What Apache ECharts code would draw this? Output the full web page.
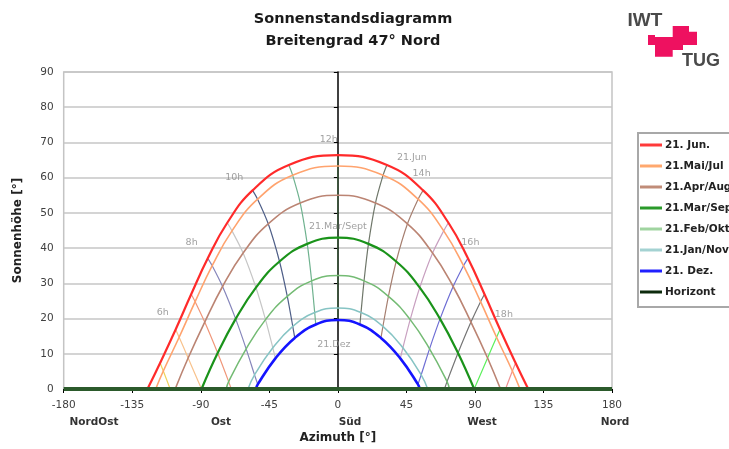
<!DOCTYPE html>
<html><head><meta charset="utf-8">
<script src="https://cdn.jsdelivr.net/npm/echarts@6/dist/echarts.min.js"></script>
<style>html,body{margin:0;padding:0;background:#fff}#c{width:729px;height:449px}</style>
</head><body><div id="c"></div>
<script>
// ---------- data ----------
const titleLines = ['Sonnenstandsdiagramm', 'Breitengrad 47° Nord'];
const xAxisName = 'Azimuth [°]';
const yAxisName = 'Sonnenhöhe [°]';
const directionNames = ['NordOst', 'Ost', 'Süd', 'West', 'Nord'];
const legendNames = ['21. Jun.', '21.Mai/Jul', '21.Apr/Aug', '21.Mar/Sep', '21.Feb/Okt', '21.Jan/Nov', '21. Dez.', 'Horizont'];

// sun paths: [azimuth, altitude]
const jun = [[-125.0,0],[-116.7,7.4],[-106.5,16.9],[-96.3,26.9],[-85.4,37.1],[-72.6,47.2],[-56.0,56.4],[-32.2,63.6],[0,66.4],[32.2,63.6],[56.0,56.4],[72.6,47.2],[85.4,37.1],[96.3,26.9],[106.5,16.9],[116.7,7.4],[125.0,0]];
const maiJul = [[-119.6,0],[-114.6,5.1],[-104.2,14.7],[-93.7,24.8],[-82.5,35.0],[-69.5,44.9],[-52.7,53.9],[-29.7,60.7],[0,63.3],[29.7,60.7],[52.7,53.9],[69.5,44.9],[82.5,35.0],[93.7,24.8],[104.2,14.7],[114.6,5.1],[119.6,0]];
const aprAug = [[-106.8,0],[-98.3,8.8],[-87.4,19.0],[-75.7,29.1],[-62.2,38.6],[-45.7,46.9],[-24.7,52.8],[0,55.0],[24.7,52.8],[45.7,46.9],[62.2,38.6],[75.7,29.1],[87.4,19.0],[98.3,8.8],[106.8,0]];
const marSep = [[-89.5,0],[-78.9,10.2],[-67.1,19.9],[-53.8,28.8],[-38.3,36.2],[-20.1,41.2],[0,43.0],[20.1,41.2],[38.3,36.2],[53.8,28.8],[67.1,19.9],[78.9,10.2],[89.5,0]];
const febOkt = [[-73.3,0],[-71.7,2.1],[-60.2,11.4],[-47.5,19.7],[-33.2,26.3],[-17.2,30.7],[0,32.2],[17.2,30.7],[33.2,26.3],[47.5,19.7],[60.2,11.4],[71.7,2.1],[73.3,0]];
const janNov = [[-59.0,0],[-54.7,4.0],[-42.7,11.7],[-29.6,17.8],[-15.2,21.7],[0,23.0],[15.2,21.7],[29.6,17.8],[42.7,11.7],[54.7,4.0],[59.0,0]];
const dez = [[-53.8,0],[-52.6,1.3],[-41.0,8.7],[-28.3,14.5],[-14.5,18.3],[0,19.6],[14.5,18.3],[28.3,14.5],[41.0,8.7],[52.6,1.3],[53.8,0]];
const horizont = [[-180,0],[180,0]];

// hour lines (same solar hour across the dates)
const hour05 = [[-116.7,7.4],[-114.6,5.1],[-110.1,0]];
const hour06 = [[-106.5,16.9],[-104.2,14.7],[-98.3,8.8],[-89.5,0]];
const hour07 = [[-96.3,26.9],[-93.7,24.8],[-87.4,19.0],[-78.9,10.2],[-71.7,2.1],[-70.0,0]];
const hour08 = [[-85.4,37.1],[-82.5,35.0],[-75.7,29.1],[-67.1,19.9],[-60.2,11.4],[-54.7,4.0],[-52.6,1.3]];
const hour09 = [[-72.6,47.2],[-69.5,44.9],[-62.2,38.6],[-53.8,28.8],[-47.5,19.7],[-42.7,11.7],[-41.0,8.7]];
const hour10 = [[-56.0,56.4],[-52.7,53.9],[-45.7,46.9],[-38.3,36.2],[-33.2,26.3],[-29.6,17.8],[-28.3,14.5]];
const hour11 = [[-32.2,63.6],[-29.7,60.7],[-24.7,52.8],[-20.1,41.2],[-17.2,30.7],[-15.2,21.7],[-14.5,18.3]];
const hour12 = [[0,66.4],[0,63.3],[0,55.0],[0,43.0],[0,32.2],[0,23.0],[0,19.6]];
const hour13 = [[32.2,63.6],[29.7,60.7],[24.7,52.8],[20.1,41.2],[17.2,30.7],[15.2,21.7],[14.5,18.3]];
const hour14 = [[56.0,56.4],[52.7,53.9],[45.7,46.9],[38.3,36.2],[33.2,26.3],[29.6,17.8],[28.3,14.5]];
const hour15 = [[72.6,47.2],[69.5,44.9],[62.2,38.6],[53.8,28.8],[47.5,19.7],[42.7,11.7],[41.0,8.7]];
const hour16 = [[85.4,37.1],[82.5,35.0],[75.7,29.1],[67.1,19.9],[60.2,11.4],[54.7,4.0],[52.6,1.3]];
const hour17 = [[96.3,26.9],[93.7,24.8],[87.4,19.0],[78.9,10.2],[71.7,2.1],[70.0,0]];
const hour18 = [[106.5,16.9],[104.2,14.7],[98.3,8.8],[89.5,0]];
const hour19 = [[116.7,7.4],[114.6,5.1],[110.1,0]];

// annotation texts placed in data coordinates
const annotationTexts = ['12h','10h','8h','6h','14h','16h','18h','21.Jun','21.Mar/Sept','21.Dez'];
const annotationAz    = [-6, -68, -96, -115, 55, 87, 109, 48.6, 0, -2.6];
const annotationAlt   = [70.8, 60, 41.7, 21.7, 61.2, 41.7, 21.2, 65.7, 46, 12.7];

// ---------- styles ----------
const FONT = 'DejaVu Sans';
const dateData = [jun, maiJul, aprAug, marSep, febOkt, janNov, dez, horizont];
const dateColors = ['#ff2a2a', '#ffa36e', '#bb8473', '#1a931a', '#74bb74', '#86c4c4', '#1414ff', '#2b5a2b'];
const legendColors = ['#ff3a3a', '#ffa86e', '#c08c78', '#2a9a2a', '#a0d4a0', '#a4d2d2', '#2020ff', '#0d2a0d'];
const dateWidths = [2.2, 1.6, 1.6, 2.2, 1.5, 1.5, 2.6, 4];
const hourData = [hour05,hour06,hour07,hour08,hour09,hour10,hour11,hour12,hour13,hour14,hour15,hour16,hour17,hour18,hour19];
const hourColors = ['#efd35c','#f8c28c','#f0977a','#8686bb','#c6c6c6','#4f5f88','#6fb28f','#3c5e3c',
                    '#6f776a','#a67f70','#c8a0c0','#6e6ed4','#757575','#5cf05c','#f09090'];

const series = [];
hourData.forEach((d, i) => {
  series.push({
    type: 'line', name: 'hour' + (i + 5), data: d, symbol: 'none', smooth: 0.3,
    silent: true, z: 2, lineStyle: { color: hourColors[i], width: 1.2 }
  });
});
dateData.forEach((d, i) => {
  const isHorizon = i === dateData.length - 1;
  series.push({
    type: 'line', name: legendNames[i], data: d, symbol: 'none',
    smooth: isHorizon ? false : 0.45, clip: !isHorizon,
    silent: true, z: isHorizon ? 5 : 3,
    itemStyle: { color: legendColors[i] },
    lineStyle: { color: dateColors[i], width: dateWidths[i] }
  });
});
series.push({
  type: 'scatter', name: 'labels', symbolSize: 0, silent: true, z: 6,
  data: annotationTexts.map((t, i) => ({ name: t, value: [annotationAz[i], annotationAlt[i]] })),
  label: { show: true, position: 'inside', formatter: p => p.name,
           fontFamily: FONT, fontSize: 9.5, color: '#8a8a8a' }
});

const dirX = [94, 221, 350, 482, 615];
const graphic = [
  { type: 'text', x: 353, y: 19, style: { text: titleLines[0], fill: '#1a1a1a', fontFamily: FONT, fontWeight: 'bold', fontSize: 14.5, align: 'center', verticalAlign: 'middle' } },
  { type: 'text', x: 353, y: 41, style: { text: titleLines[1], fill: '#1a1a1a', fontFamily: FONT, fontWeight: 'bold', fontSize: 14.5, align: 'center', verticalAlign: 'middle' } },
  // logo
  { type: 'polygon', shape: { points: [[648,35],[655,35],[655,37],[672.7,37],[672.7,26],[689,26],[689,31.7],[697,31.7],[697,45],[683,45],[683,50],[672.7,50],[672.7,56.7],[655,56.7],[655,45],[648,45]] }, style: { fill: '#ee1160' } },
  { type: 'text', x: 645, y: 21, style: { text: 'IWT', fill: '#4a4a4a', fontFamily: 'Liberation Sans', fontWeight: 'bold', fontSize: 19, align: 'center', verticalAlign: 'middle' } },
  { type: 'text', x: 701, y: 61, style: { text: 'TUG', fill: '#4a4a4a', fontFamily: 'Liberation Sans', fontWeight: 'bold', fontSize: 18, align: 'center', verticalAlign: 'middle' } }
];
directionNames.forEach((n, i) => {
  graphic.push({ type: 'text', x: dirX[i], y: 422, style: { text: n, fill: '#333', fontFamily: FONT, fontWeight: 'bold', fontSize: 10.5, align: 'center', verticalAlign: 'middle' } });
});

const chart = echarts.init(document.getElementById('c'), null, { renderer: 'canvas' });
chart.setOption({
  animation: false,
  backgroundColor: '#fff',
  grid: { left: 63.7, right: 117, top: 72, bottom: 58, show: true, borderColor: '#c4c4c4', borderWidth: 1.5, containLabel: false },
  legend: {
    data: legendNames, left: 638, top: 133, orient: 'vertical', icon: 'rect',
    itemWidth: 22, itemHeight: 3, itemGap: 9, padding: [6, 40, 9, 2],
    borderColor: '#a8a8a8', borderWidth: 2, selectedMode: false,
    textStyle: { fontFamily: FONT, fontWeight: 'bold', fontSize: 10.5, color: '#222', lineHeight: 12, padding: [0, 0, 0, -2] }
  },
  xAxis: {
    type: 'value', min: -180, max: 180, interval: 45,
    name: xAxisName, nameLocation: 'middle', nameGap: 43,
    nameTextStyle: { fontFamily: FONT, fontWeight: 'bold', fontSize: 12, color: '#222' },
    axisLine: { show: true, lineStyle: { color: '#000', width: 1 } },
    axisTick: { show: true, length: 4, lineStyle: { color: '#000' } },
    axisLabel: { fontFamily: FONT, fontSize: 10.5, color: '#404040', margin: 11, showMinLabel: true, showMaxLabel: true },
    splitLine: { show: false }
  },
  yAxis: {
    type: 'value', min: 0, max: 90, interval: 10,
    name: yAxisName, nameLocation: 'middle', nameGap: 40,
    nameTextStyle: { fontFamily: FONT, fontWeight: 'bold', fontSize: 12, color: '#222' },
    axisLine: { show: true, lineStyle: { color: '#000', width: 1.5 } },
    axisTick: { show: true, length: 4, lineStyle: { color: '#000' } },
    axisLabel: { fontFamily: FONT, fontSize: 10.5, color: '#404040', margin: 10 },
    splitLine: { show: true, lineStyle: { color: '#c6c6c6', width: 1.5 } }
  },
  graphic: graphic,
  series: series
});
</script>
</body></html>
